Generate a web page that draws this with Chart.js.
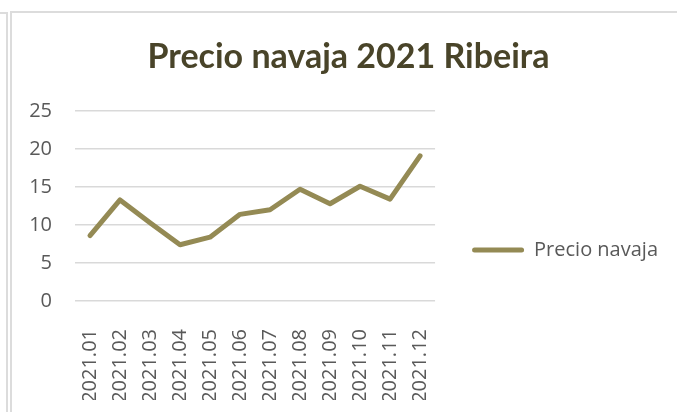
<!DOCTYPE html>
<html>
<head>
<meta charset="utf-8">
<script src="https://cdn.jsdelivr.net/npm/chart.js@4.4.1/dist/chart.umd.min.js"></script>
<style>
  html, body { margin: 0; padding: 0; background: #fff; overflow: hidden; }
  #wrap { position: relative; width: 677px; height: 412px; }
  .frame { position: absolute; border: 2px solid #dcdcdc; box-sizing: border-box; }
  #prev { left: -20px; top: 12px; width: 28px; height: 420px; }
  #box { left: 10px; top: 11px; width: 700px; height: 420px; }
  canvas { position: absolute; left: 0; top: 0; }
</style>
</head>
<body>
<div id="wrap">
  <div class="frame" id="prev"></div>
  <div class="frame" id="box"></div>
  <canvas id="chart" width="677" height="412"></canvas>
</div>
<script>
/* datos */
const months = ["2021.01", "2021.02", "2021.03", "2021.04", "2021.05", "2021.06",
                "2021.07", "2021.08", "2021.09", "2021.10", "2021.11", "2021.12"];
const precio = [8.6, 13.3, 10.3, 7.4, 8.4, 11.4, 12.0, 14.7, 12.8, 15.1, 13.4, 19.1];
const yTicks = [0, 5, 10, 15, 20, 25];

const olive = "#948a54";
const textGray = "#595959";
const titleFamily = "Lato, sans-serif";
const bodyFamily = "'Open Sans', sans-serif";

function draw() {
  new Chart(document.getElementById("chart"), {
    type: "line",
    data: {
      labels: months,
      datasets: [{
        label: "Precio navaja",
        data: precio,
        borderColor: olive,
        backgroundColor: olive,
        borderWidth: 5,
        borderCapStyle: "round",
        borderJoinStyle: "round",
        pointRadius: 0,
        tension: 0
      }]
    },
    options: {
      responsive: false,
      animation: false,
      layout: { padding: { left: 29, right: 9, top: 0, bottom: 12 } },
      plugins: {
        title: {
          display: true,
          text: "Precio navaja 2021 Ribeira",
          color: "#494429",
          font: { family: titleFamily, size: 34, weight: "bold", lineHeight: 1.2 },
          padding: { top: 37, bottom: 33.2 }
        },
        legend: {
          position: "right",
          maxWidth: 300,
          // titulo vacio solo para bajar la leyenda
          title: { display: true, text: "", font: { size: 10, lineHeight: 1 }, padding: { top: 90, bottom: 0 } },
          labels: {
            color: textGray,
            font: { family: bodyFamily, size: 20 },
            boxWidth: 52,
            boxHeight: 5,
            padding: 37,
            generateLabels: chart => chart.data.datasets.map((ds, i) => ({
              text: ds.label,
              fillStyle: ds.borderColor,
              strokeStyle: ds.borderColor,
              lineWidth: 0,
              borderRadius: 2.5,
              fontColor: textGray,
              datasetIndex: i
            }))
          }
        },
        tooltip: { enabled: false }
      },
      scales: {
        x: {
          offset: true,
          afterFit: s => { s.height = 99; },
          grid: { display: false },
          border: { display: false },
          ticks: {
            color: textGray,
            font: { family: bodyFamily, size: 20 },
            minRotation: 90,
            maxRotation: 90,
            padding: 20,
            autoSkip: false
          }
        },
        y: {
          min: 0,
          max: 25,
          afterBuildTicks: s => { s.ticks = yTicks.map(v => ({ value: v })); },
          afterFit: s => { s.width = 46; },
          grid: { color: "#d9d9d9", lineWidth: 1.5, drawTicks: false },
          border: { display: false },
          ticks: {
            color: textGray,
            font: { family: bodyFamily, size: 20 },
            padding: 23
          }
        }
      }
    }
  });
}

Promise.all([
  document.fonts.load("bold 34px Lato"),
  document.fonts.load("20px 'Open Sans'")
]).then(draw, draw);
</script>
</body>
</html>
